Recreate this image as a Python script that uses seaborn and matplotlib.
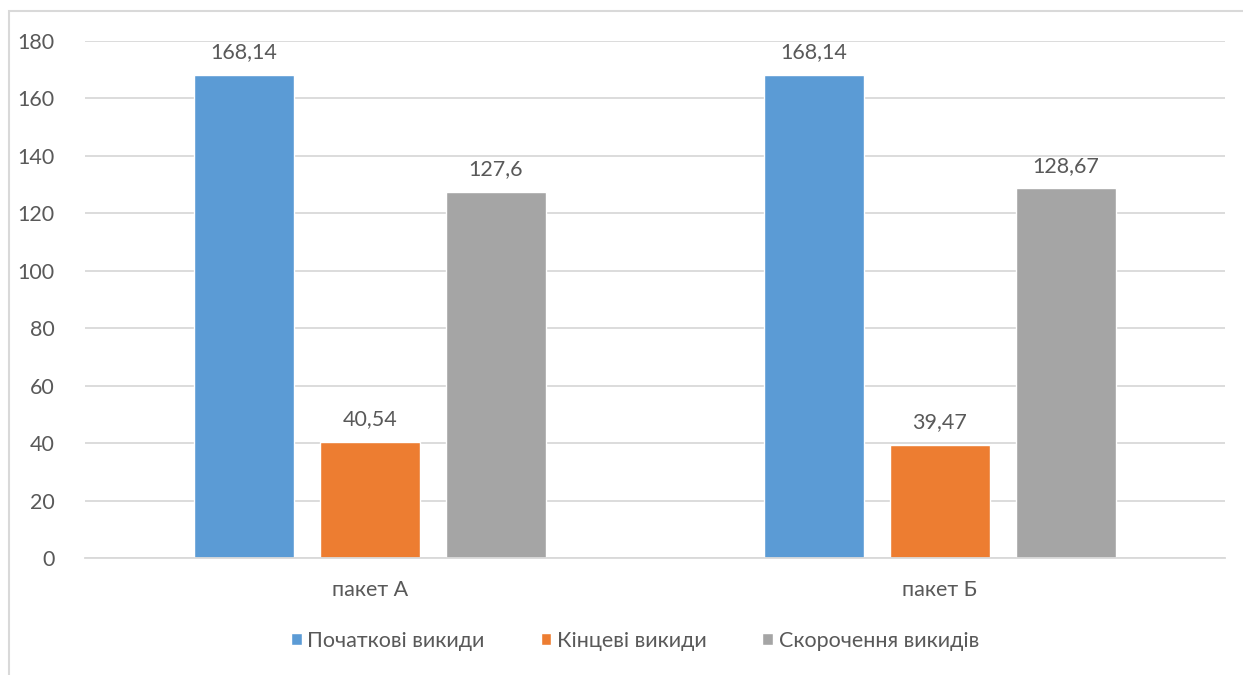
import matplotlib
matplotlib.use("Agg")
import matplotlib.pyplot as plt
from matplotlib.patches import Rectangle
import seaborn as sns
import pandas as pd

packages = ["пакет А", "пакет Б"]
series_names = ["Початкові викиди", "Кінцеві викиди", "Скорочення викидів"]
initial = [168.14, 168.14]
final = [40.54, 39.47]
reduction = [127.6, 128.67]
y_ticks = [0, 20, 40, 60, 80, 100, 120, 140, 160, 180]
colors = ["#5B9BD5", "#ED7D31", "#A5A5A5"]

rows = []
for name, vals in zip(series_names, [initial, final, reduction]):
    for pkg, v in zip(packages, vals):
        rows.append({"package": pkg, "series": name, "value": v})
df = pd.DataFrame(rows)

sns.set_theme(style="white")
plt.rcParams["font.family"] = ["Lato", "DejaVu Sans"]
text_color = "#595959"
grid_color = "#D9D9D9"
fs = 15.5

fig = plt.figure(figsize=(12.43, 6.75), dpi=100)
W, H = 1243, 675
ax = fig.add_axes([85 / W, 1 - 558 / H, (1225 - 85) / W, (558 - 41) / H])

sns.barplot(data=df, x="package", y="value", hue="series", order=packages,
            hue_order=series_names, palette=colors, width=0.663, gap=0.208,
            saturation=1, ax=ax, legend=True)

ax.set_xlim(-0.5, 1.5)
ax.set_ylim(0, 180)
ax.set_yticks(y_ticks)
ax.set_yticklabels([str(t) for t in y_ticks])
ax.yaxis.grid(True, color=grid_color, lw=1.3)
ax.set_axisbelow(True)
for s in ["top", "right", "left"]:
    ax.spines[s].set_visible(False)
ax.spines["bottom"].set_color(grid_color)
ax.spines["bottom"].set_linewidth(1.3)
ax.tick_params(axis="both", length=0, labelsize=fs, colors=text_color)
ax.tick_params(axis="y", pad=22)
ax.tick_params(axis="x", pad=16)
ax.set_xlabel("")
ax.set_ylabel("")

for container in ax.containers:
    labels = [f"{v:g}".replace(".", ",") for v in container.datavalues]
    ax.bar_label(container, labels=labels, padding=9, fontsize=fs,
                 color=text_color)

handles, labels = ax.get_legend_handles_labels()
ax.legend_.remove()
fig.legend(handles, labels, loc="center", bbox_to_anchor=(635 / W, 1 - 641 / H),
           ncol=3, frameon=False, fontsize=fs, labelcolor=text_color,
           handlelength=0.5, handleheight=0.5, handletextpad=0.25,
           columnspacing=2.6)

# chart frame
fig.patches.append(Rectangle((9 / W, -0.05), 1.2, 1 - 11 / H + 0.05,
                             transform=fig.transFigure, fill=False,
                             edgecolor=grid_color, lw=1.5))

fig.savefig("out.png", dpi=100, facecolor="white")
